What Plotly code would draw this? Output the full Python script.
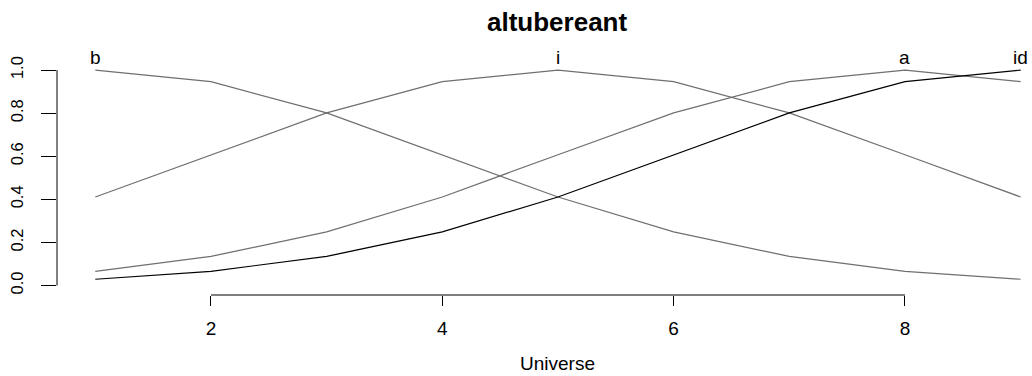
import plotly.graph_objects as go

# Universe of discourse and membership degrees of each fuzzy set
universe = [1, 2, 3, 4, 5, 6, 7, 8, 9]
set_b = [1.0, 0.946, 0.801, 0.607, 0.411, 0.249, 0.135, 0.066, 0.029]
set_i = [0.411, 0.607, 0.801, 0.946, 1.0, 0.946, 0.801, 0.607, 0.411]
set_a = [0.066, 0.135, 0.249, 0.411, 0.607, 0.801, 0.946, 1.0, 0.946]
set_id = [0.029, 0.066, 0.135, 0.249, 0.411, 0.607, 0.801, 0.946, 1.0]

set_names = ["b", "i", "a", "id"]
set_peaks = [1, 5, 8, 9]
series = [set_b, set_i, set_a, set_id]
colors = ["#6f6f6f", "#6f6f6f", "#6f6f6f", "#000000"]

x_ticks = [2, 4, 6, 8]
y_ticks = [0.0, 0.2, 0.4, 0.6, 0.8, 1.0]
y_tick_text = ["0.0", "0.2", "0.4", "0.6", "0.8", "1.0"]

FONT = "Liberation Sans, Arial, sans-serif"
H_SIZE = 19      # horizontal labels
V_SIZE = 16.5    # rotated y tick labels

fig = go.Figure()
for name, vals, col in zip(set_names, series, colors):
    fig.add_trace(go.Scatter(x=universe, y=vals, mode="lines", name=name,
                             line=dict(color=col, width=1.2), showlegend=False))

# Set names written above each set's peak
for name, peak in zip(set_names, set_peaks):
    fig.add_annotation(x=peak, y=1.0, xref="x", yref="y", text=name,
                       showarrow=False, yanchor="bottom", yshift=0,
                       font=dict(family=FONT, size=H_SIZE, color="black"))

# Axis lines spanning only the tick range
fig.add_shape(type="line", xref="paper", yref="y", x0=0, x1=0,
              y0=y_ticks[0], y1=y_ticks[-1], line=dict(color="black", width=1))
fig.add_shape(type="line", xref="x", yref="paper", x0=x_ticks[0], x1=x_ticks[-1],
              y0=0, y1=0, line=dict(color="black", width=1))

fig.add_annotation(text="<b>altubereant</b>", xref="paper", yref="paper",
                   x=0.513, y=1, yanchor="middle", yshift=(61 - 22),
                   showarrow=False, font=dict(family=FONT, size=26, color="black"))
fig.add_annotation(text="Universe", xref="paper", yref="paper",
                   x=0.513, y=0, yanchor="middle", yshift=-(363 - 295),
                   showarrow=False, font=dict(family=FONT, size=H_SIZE, color="black"))

fig.update_layout(
    width=1032, height=376,
    margin=dict(l=57, r=0, t=61, b=81),
    paper_bgcolor="white", plot_bgcolor="white",
    xaxis=dict(range=[0.669, 9.098], showgrid=False, zeroline=False, showline=False,
               tickmode="array", tickvals=x_ticks, ticktext=[str(v) for v in x_ticks],
               ticks="outside", ticklen=10, tickwidth=1, tickcolor="black",
               ticklabelstandoff=6,
               tickfont=dict(family=FONT, size=H_SIZE, color="black")),
    yaxis=dict(range=[-0.044, 1.042], showgrid=False, zeroline=False, showline=False,
               tickmode="array", tickvals=y_ticks, ticktext=y_tick_text,
               ticks="outside", ticklen=15, tickwidth=1, tickcolor="black",
               tickangle=-90, ticklabelstandoff=11,
               tickfont=dict(family=FONT, size=V_SIZE, color="black")),
)

fig.write_html("out.html")
